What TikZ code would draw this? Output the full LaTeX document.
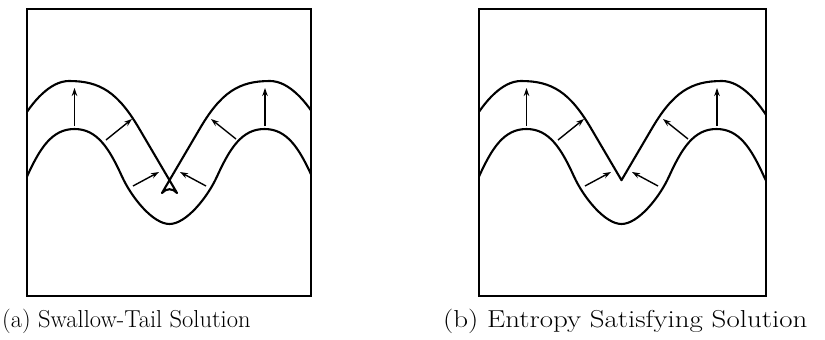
\documentclass[tikz,border=0pt]{standalone}
\usetikzlibrary{arrows.meta}
\begin{document}
\begin{tikzpicture}[x=1pt,y=-1pt,
  framebox/.style={line width=2.8pt},
  front/.style={line width=2.1pt,line join=round},
  normalarrow/.style={line width=1.4pt,-{Stealth[length=8pt,width=5.5pt]}},
  caption/.style={anchor=base west,inner sep=0pt,font=\fontsize{24.5}{28}\selectfont}]
\useasboundingbox (0,0) rectangle (825,340);
% ---------- shared pieces ----------
\def\lowercurve{(-20.5,224) .. controls (-3.8,224) and (17.6,197.2) .. (27,176.5)
  .. controls (40,148) and (52,129) .. (74.5,129)
  .. controls (97,129) and (109,148) .. (122,176.5)
  .. controls (131.4,197.2) and (152.8,224) .. (169.5,224)
  .. controls (186.2,224) and (207.6,197.2) .. (217,176.5)
  .. controls (230,148) and (242,129) .. (264.5,129)
  .. controls (287,129) and (299,148) .. (312,176.5)
  .. controls (321.4,197.2) and (342.8,224) .. (359.5,224)}
% ---------- panel (a) ----------
\begin{scope}
  \clip (27,9) rectangle (311,296);
  \draw[front] \lowercurve;
  \draw[front] (20,123) .. controls (32,102) and (50,81) .. (69,81)
    .. controls (100,81) and (118,92) .. (140,130) -- (177,193)
    .. controls (173,188) and (166,188) .. (162,193) -- (199,130)
    .. controls (221,92) and (239,81) .. (270,81)
    .. controls (289,81) and (307,102) .. (319,123);
\end{scope}
\draw[normalarrow] (74.5,126) -- (74.5,88);
\draw[normalarrow] (265,126) -- (265,88);
\draw[normalarrow] (106,140) -- (132,119);
\draw[normalarrow] (236,139) -- (211,119);
\draw[normalarrow] (133,186) -- (159,172);
\draw[normalarrow] (206,186) -- (180,172);
\draw[framebox] (27,9) rectangle (311,296);
\node[caption] (capa) at (2,327) {(a) Swallow-Tail Solution};
% ---------- panel (b) ----------
\begin{scope}[xshift=452pt]
  \begin{scope}
    \clip (27,9) rectangle (314,296);
    \draw[front] \lowercurve;
    \draw[front] (20,123) .. controls (32,102) and (50,81) .. (69,81)
      .. controls (100,81) and (118,92) .. (140,130) -- (169.5,180.2) -- (199,130)
      .. controls (221,92) and (239,81) .. (270,81)
      .. controls (289,81) and (307,102) .. (319,123);
  \end{scope}
  \draw[normalarrow] (74.5,126) -- (74.5,88);
  \draw[normalarrow] (265,126) -- (265,88);
  \draw[normalarrow] (106,140) -- (132,119);
  \draw[normalarrow] (236,139) -- (211,119);
  \draw[normalarrow] (133,186) -- (159,172);
  \draw[normalarrow] (206,186) -- (180,172);
  \draw[framebox] (27,9) rectangle (314,296);
\end{scope}
\node[caption] (capb) at (443,327) {\scalebox{1.18}[1]{(b) Entropy Satisfying Solution}};
\end{tikzpicture}
\end{document}
